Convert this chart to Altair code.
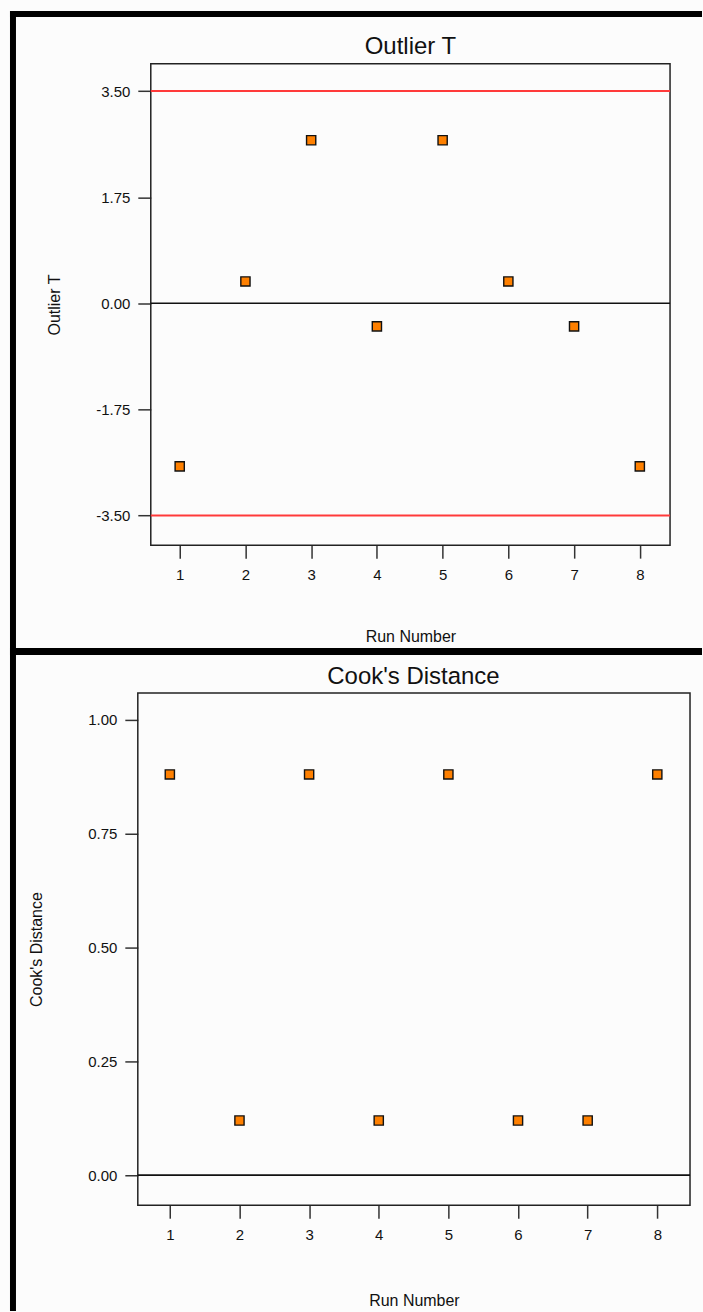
import altair as alt
import pandas as pd

# ---- data -------------------------------------------------------------
runs = [1, 2, 3, 4, 5, 6, 7, 8]
outlier_t = [-2.69, 0.36, 2.69, -0.38, 2.69, 0.36, -0.38, -2.69]
cooks_d = [0.88, 0.12, 0.88, 0.12, 0.88, 0.12, 0.12, 0.88]
t_limits = [3.50, -3.50]
t_ticks = [-3.50, -1.75, 0.00, 1.75, 3.50]
d_ticks = [0.00, 0.25, 0.50, 0.75, 1.00]

FONT = "Liberation Sans"
INK = "#111111"
ORANGE = "#ff8000"
RED = "#ff3a3a"

one_row = pd.DataFrame({"k": [0]})

# two decimals with a plain hyphen for negatives
HYPHEN_2F = ("datum.value < 0 ? '-' + format(-datum.value, '.2f') "
             ": format(datum.value, '.2f')")


def x_axis(title_y):
    return alt.Axis(
        values=runs, format="d", domain=False, grid=False,
        tickSize=13, tickColor="#333333", tickWidth=1.5,
        labelFont=FONT, labelFontSize=15, labelColor=INK, labelPadding=9,
        title="Run Number", titleFont=FONT, titleFontSize=16,
        titleFontWeight="normal", titleColor=INK,
        titleBaseline="alphabetic", titleY=title_y,
    )


def y_axis(ticks, title, title_x, offset=0):
    return alt.Axis(
        values=ticks, labelExpr=HYPHEN_2F, domain=False, grid=False,
        tickSize=13, tickColor="#333333", tickWidth=1.5, offset=offset,
        labelFont=FONT, labelFontSize=15, labelColor=INK, labelPadding=8,
        title=title, titleFont=FONT, titleFontSize=16,
        titleFontWeight="normal", titleColor=INK,
        titleBaseline="alphabetic", titleX=title_x,
    )


def frame(x0, x1, h):
    return alt.Chart(one_row).mark_rect(
        fillOpacity=0, stroke="#222222", strokeWidth=1.5
    ).encode(x=alt.value(x0), x2=alt.value(x1), y=alt.value(0), y2=alt.value(h))


def block(x0, x1, y0, y1):
    return alt.Chart(one_row).mark_rect(fill="#000000").encode(
        x=alt.value(x0), x2=alt.value(x1), y=alt.value(y0), y2=alt.value(y1)
    )


def heading(text, x, y):
    return alt.Chart(one_row).mark_text(
        font=FONT, fontSize=24, color=INK, align="center", baseline="alphabetic"
    ).encode(x=alt.value(x), y=alt.value(y), text=alt.value(text))


# ---- top panel: Outlier T ---------------------------------------------
TW, TH = 520, 482
xs_t = alt.Scale(domain=[0.56, 8.46], nice=False, zero=False)
ys_t = alt.Scale(domain=[-3.99, 3.95], nice=False, zero=False)

pts_t = pd.DataFrame({"run": runs, "t": outlier_t})
lim_t = pd.DataFrame({"t": t_limits})
zero_t = pd.DataFrame({"t": [0.0]})

t_points = alt.Chart(pts_t).mark_square(
    size=85, fill=ORANGE, stroke=INK, strokeWidth=1.4, opacity=1
).encode(
    x=alt.X("run:Q", scale=xs_t, axis=x_axis(96)),
    y=alt.Y("t:Q", scale=ys_t, axis=y_axis(t_ticks, "Outlier T", -91)),
)
t_limit_rules = alt.Chart(lim_t).mark_rule(color=RED, strokeWidth=2).encode(
    y=alt.Y("t:Q", scale=ys_t)
)
t_zero_rule = alt.Chart(zero_t).mark_rule(color=INK, strokeWidth=1.6).encode(
    y=alt.Y("t:Q", scale=ys_t)
)

top = alt.layer(
    frame(0, TW, TH),
    t_limit_rules,
    t_zero_rule,
    t_points,
    heading("Outlier T", 260, -10),
    # outer black border: left side, top side and the divider between panels
    block(-141, -135, -53, 1249),
    block(-141, 552, -53, -47),
    block(-141, 552, 585, 592),
).properties(width=TW, height=TH)

# ---- bottom panel: Cook's Distance ------------------------------------
BW, BH, SHIFT = 540, 513, 13
xs_d = alt.Scale(domain=[0.54, 8.47], nice=False, zero=False, range=[-SHIFT, BW])
ys_d = alt.Scale(domain=[-0.066, 1.059], nice=False, zero=False)

pts_d = pd.DataFrame({"run": runs, "d": cooks_d})
zero_d = pd.DataFrame({"d": [0.0]})

d_points = alt.Chart(pts_d).mark_square(
    size=85, fill=ORANGE, stroke=INK, strokeWidth=1.4, opacity=1
).encode(
    x=alt.X("run:Q", scale=xs_d, axis=x_axis(100)),
    y=alt.Y("d:Q", scale=ys_d,
            axis=y_axis(d_ticks, "Cook's Distance", -96, offset=SHIFT)),
)
d_zero_rule = alt.Chart(zero_d).mark_rule(color=INK, strokeWidth=1.6).encode(
    y=alt.Y("d:Q", scale=ys_d), x=alt.value(-SHIFT), x2=alt.value(BW)
)

bottom = alt.layer(
    frame(-SHIFT, BW, BH),
    d_zero_rule,
    d_points,
    heading("Cook's Distance", 263, -9),
).properties(width=BW, height=BH)

chart = alt.vconcat(top, bottom, spacing=148, bounds="flush").properties(
    padding={"left": 10, "top": 10, "right": 0, "bottom": 0},
    background="#fcfcfc",
).configure_view(strokeWidth=0)

chart.save("out.html", embed_options={"renderer": "svg", "actions": False})
